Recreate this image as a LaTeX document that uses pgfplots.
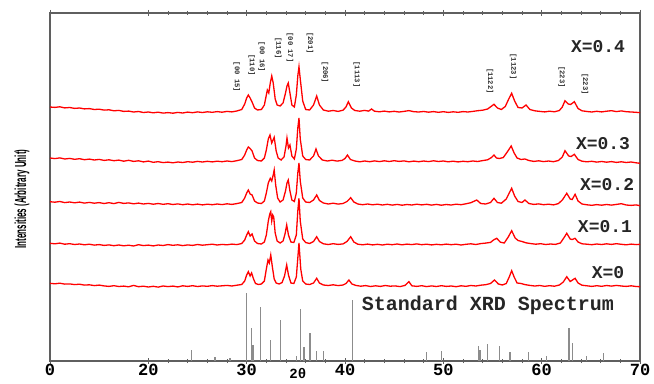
\documentclass[border=0pt]{standalone}
\usepackage{pgfplots}
\pgfplotsset{compat=1.18}
\usepackage{fontspec}
\setmainfont{Liberation Serif}
\newfontfamily\mono{Liberation Mono}
\newfontfamily\ylabfont[FakeStretch=0.5]{Liberation Sans}
\definecolor{axgray}{RGB}{95,95,95}
\definecolor{stickgray}{RGB}{140,140,140}
\begin{document}
\begin{tikzpicture}
\begin{axis}[
  scale only axis, width=590pt, height=348pt,
  xmin=10, xmax=70, ymin=0, ymax=348,
  xtick={10,20,30,40,50,60,70},
  xticklabels={0,20,30,40,50,60,70},
  minor xtick={22,24,26,28,32,34,36,38,42,44,46,48,52,54,56,58,62,64,66,68},
  ytick=\empty,
  tick align=center,
  major tick length=6pt, minor tick length=4pt,
  every tick/.style={axgray, line width=1pt},
  axis line style={axgray, line width=1.6pt},
  /pgf/number format/assume math mode=true,
  xticklabel style={font=\mono\bfseries\fontsize{17}{17}\selectfont, yshift=3pt},
  clip=false,
]
% Standard stick spectrum
\addplot[ycomb, stickgray, line width=1.3pt, mark=none] coordinates {
(24.41,11) (26.78,4) (28.31,3) (30.00,68) (30.51,33) (30.64,16) (31.43,54) (32.45,21)
(33.46,41) (35.09,5) (35.50,52) (35.83,14) (36.44,28) (37.12,10) (37.79,10)
(48.31,9) (49.84,10) (53.56,15) (53.73,11) (54.47,17) (55.69,15) (56.78,9) (58.64,9)
(60.51,5) (62.78,33) (63.12,18) (64.58,5) (66.27,8)};
\addplot[ycomb, stickgray, line width=0.6pt, mark=none] coordinates {(40.78,61)};
% X=0
\addplot[red, line width=1.3pt, mark=none] coordinates {
(10,77.7)(10.5,77.2)(11,77.8)(11.5,76.9)(12,77.1)(12.5,76.4)(13,76.8)(13.5,75.9)(14,76.2)(14.5,75.4)(15,75.9)(15.5,75.1)(16,74.6)(16.5,75.3)(17,74.5)(17.5,74.9)(18,74.2)(18.5,75.6)(19,74.3)(19.5,74.8)(20,74.0)(20.5,74.7)(21,73.9)(21.5,75.0)(22,74.4)(22.5,74.9)(23,74.1)(23.5,75.2)(24,74.6)(24.5,75.3)(25,74.5)(25.5,75.1)(26,74.7)(26.5,75.4)(27,74.8)(27.5,75.2)(28,75.6)(28.5,75.0)(29,75.8)(29.5,76.5)(29.8,80)(30.0,86)(30.17,89.3)(30.35,85)(30.5,88)(30.7,82)(30.9,77.5)(31.2,76.5)(31.5,77)(31.8,80)(32.0,92)(32.17,101)(32.3,98)(32.45,106)(32.6,95)(32.8,82)(33.0,78)(33.3,77)(33.6,78.5)(33.85,85)(34.07,96)(34.25,86)(34.5,78)(34.8,77.5)(35.05,84)(35.32,118)(35.5,92)(35.7,80)(36.0,77)(36.4,76.5)(36.8,78)(37.12,82.7)(37.4,78)(37.8,76)(38.3,75.5)(38.8,76.2)(39.3,75.4)(39.8,76)(40.1,77.5)(40.4,81)(40.7,77)(41.1,75.6)(41.6,74.8)(42.1,75.4)(42.6,74.5)(43.1,75.2)(43.6,74.6)(44.1,75.5)(44.6,74.8)(45.1,75.1)(45.6,74.4)(46.1,75.6)(46.5,79.3)(46.8,75.2)(47.3,74.6)(47.8,75.3)(48.3,74.4)(48.8,75.1)(49.3,74.5)(49.8,75.3)(50.3,74.6)(50.8,75.0)(51.3,74.3)(51.8,75.2)(52.3,74.7)(52.8,75.5)(53.3,75.0)(53.8,75.8)(54.3,76.3)(54.8,77.5)(55.2,81)(55.6,77)(56.0,76)(56.4,77.5)(56.7,84)(56.95,90.3)(57.2,84)(57.5,78)(57.9,77.5)(58.3,76.4)(58.8,75.6)(59.3,75.0)(59.8,75.5)(60.3,74.7)(60.8,75.3)(61.3,74.8)(61.8,76)(62.2,79)(62.55,84.3)(62.9,79.5)(63.4,82.7)(63.7,78)(64.1,75.8)(64.6,75.2)(65.1,74.6)(65.6,75.3)(66.1,74.7)(66.6,75.5)(67.1,74.9)(67.6,75.6)(68.1,75.0)(68.6,74.6)(69.1,75.2)(69.6,74.5)(70,74.3)};
% X=0.1
\addplot[red, line width=1.3pt, mark=none] coordinates {
(10,117.7)(10.5,117.2)(11,117.9)(11.5,116.8)(12,117.3)(12.5,116.5)(13,117.0)(13.5,116.2)(14,116.8)(14.5,115.9)(15,116.4)(15.5,115.6)(16,116.1)(16.5,115.3)(17,116.0)(17.5,115.2)(18,115.8)(18.5,115.0)(19,116.3)(19.5,115.4)(20,115.9)(20.5,115.1)(21,116.0)(21.5,115.5)(22,116.4)(22.5,115.7)(23,116.2)(23.5,115.4)(24,116.1)(24.5,115.6)(25,116.5)(25.5,115.8)(26,116.3)(26.5,116.8)(27,116.0)(27.5,116.6)(28,116.2)(28.5,116.9)(29,116.4)(29.5,117.5)(29.8,121)(30.0,126)(30.17,129.3)(30.35,125)(30.55,127)(30.8,120)(31.1,117.5)(31.5,117)(31.8,119)(32.0,126)(32.2,140)(32.35,147)(32.45,149.3)(32.55,140)(32.65,146)(32.75,144)(32.9,128)(33.1,120)(33.4,118)(33.7,120)(33.9,127)(34.07,136)(34.25,126)(34.5,119)(34.8,118.5)(35.05,126)(35.2,150)(35.32,162.7)(35.45,140)(35.7,122)(36.0,118.5)(36.4,117.5)(36.8,119.5)(37.12,124.3)(37.4,119.5)(37.8,117.2)(38.3,116.5)(38.8,117.3)(39.3,116.6)(39.8,117.1)(40.2,119.5)(40.58,124.3)(40.9,119)(41.3,116.8)(41.8,116.2)(42.3,116.9)(42.8,116.1)(43.3,116.7)(43.8,116.0)(44.3,116.8)(44.8,116.3)(45.3,117.0)(45.8,116.2)(46.3,116.9)(46.8,116.4)(47.3,117.1)(47.8,116.3)(48.3,116.8)(48.8,116.1)(49.3,116.7)(49.8,116.2)(50.3,116.9)(50.8,116.3)(51.3,116.8)(51.8,116.0)(52.3,116.7)(52.8,117.2)(53.3,116.5)(53.8,117.4)(54.3,117.9)(54.8,118.6)(55.1,121)(55.43,122.7)(55.8,118.8)(56.2,118)(56.6,124)(56.95,130.3)(57.3,123)(57.6,120.5)(58.0,119.5)(58.4,118.2)(58.9,117.4)(59.4,116.8)(59.9,117.3)(60.4,116.5)(60.9,117.0)(61.4,116.6)(61.9,118)(62.25,123)(62.55,127.7)(62.9,122)(63.1,121.5)(63.4,122.7)(63.7,119)(64.1,117.2)(64.6,116.8)(65.1,116.3)(65.6,117.0)(66.1,116.5)(66.6,117.2)(67.1,116.6)(67.6,117.3)(68.1,116.7)(68.6,116.2)(69.1,116.9)(69.6,116.4)(70,116.7)};
% X=0.2
\addplot[red, line width=1.3pt, mark=none] coordinates {
(10,159.3)(10.5,158.8)(11,159.5)(11.5,158.4)(12,159.0)(12.5,158.2)(13,158.9)(13.5,157.9)(14,158.6)(14.5,157.8)(15,158.4)(15.5,157.5)(16,158.3)(16.5,157.4)(17,158.6)(17.5,157.6)(18,158.1)(18.5,157.2)(19,157.9)(19.5,157.0)(20,157.6)(20.5,156.8)(21,157.5)(21.5,156.7)(22,157.3)(22.5,156.5)(23,157.1)(23.5,156.3)(24,157.0)(24.5,156.2)(25,156.9)(25.5,156.1)(26,156.8)(26.5,156.3)(27,157.0)(27.5,156.4)(28,157.2)(28.5,156.6)(29,157.4)(29.5,158.5)(29.8,163)(30.0,168)(30.17,171)(30.35,167)(30.55,166)(30.8,160)(31.1,158)(31.5,157.5)(31.8,160)(32.0,168)(32.2,178)(32.4,182.7)(32.55,180)(32.7,186)(32.8,191)(32.95,176)(33.15,163)(33.4,159)(33.7,161)(33.95,170)(34.1,178)(34.23,181)(34.4,170)(34.6,161)(34.85,159.5)(35.05,168)(35.2,188)(35.32,198)(35.45,180)(35.7,163)(36.0,159)(36.4,158.5)(36.8,161)(37.12,166)(37.4,160.5)(37.8,158)(38.3,157)(38.8,157.8)(39.3,156.9)(39.8,157.5)(40.2,159.5)(40.58,163.3)(40.9,159)(41.3,157)(41.8,156.3)(42.3,157.0)(42.8,156.2)(43.3,156.8)(43.8,156.0)(44.3,156.7)(44.8,155.9)(45.3,156.6)(45.8,155.8)(46.3,156.5)(46.8,156.0)(47.3,156.8)(47.8,156.1)(48.3,156.7)(48.8,155.9)(49.3,156.6)(49.8,155.8)(50.3,156.5)(50.8,156.0)(51.3,156.8)(51.8,156.3)(52.3,157.2)(52.8,158.3)(53.4,161)(53.8,157.5)(54.3,157.0)(54.8,158.5)(55.15,162.7)(55.5,158.5)(55.9,157.8)(56.4,162)(56.7,168)(56.95,172.7)(57.25,165)(57.6,159.5)(58.0,158.5)(58.3,161)(58.7,157.5)(59.2,156.6)(59.7,157.1)(60.2,156.3)(60.7,156.8)(61.2,156.1)(61.7,157.4)(62.1,161)(62.55,167.7)(62.9,162)(63.1,161.5)(63.4,166.7)(63.7,160)(64.1,157)(64.6,156.2)(65.1,155.7)(65.6,156.4)(66.1,155.8)(66.6,156.5)(67.1,155.9)(67.6,156.6)(68.1,157.3)(68.6,156.0)(69.1,155.6)(69.6,156.1)(70,155.3)};
% X=0.3
\addplot[red, line width=1.3pt, mark=none] coordinates {
(10,203.0)(10.5,202.4)(11,203.1)(11.5,202.0)(12,202.6)(12.5,201.7)(13,202.3)(13.5,201.3)(14,201.9)(14.5,201.0)(15,201.6)(15.5,200.6)(16,201.2)(16.5,200.3)(17,200.9)(17.5,199.8)(18,200.7)(18.5,199.6)(19,200.2)(19.5,199.1)(20,199.9)(20.5,198.7)(21,199.3)(21.5,198.4)(22,198.9)(22.5,198.2)(23,199.0)(23.5,198.5)(24,199.3)(24.5,198.8)(25,199.6)(25.5,199.0)(26,199.7)(26.5,199.1)(27,199.8)(27.5,199.3)(28,200.0)(28.5,199.4)(29,200.3)(29.5,201.5)(29.8,206)(30.0,211)(30.17,214)(30.35,212.5)(30.55,210)(30.8,203)(31.1,200.5)(31.5,200)(31.8,203)(32.0,211)(32.2,222)(32.37,226)(32.55,218)(32.8,223.7)(33.0,210)(33.2,203)(33.5,201)(33.8,204)(34.0,215)(34.1,223)(34.25,213)(34.4,216)(34.6,205)(34.85,202)(35.05,212)(35.2,233)(35.32,243)(35.45,222)(35.7,205)(36.0,201.5)(36.4,201)(36.8,205)(37.05,212)(37.3,205)(37.7,201)(38.2,200)(38.7,200.8)(39.2,199.9)(39.7,200.6)(40.0,202.5)(40.25,206)(40.55,201.5)(41.0,200)(41.5,199.2)(42.0,200.0)(42.5,199.3)(43.0,200.1)(43.5,199.4)(44.0,200.2)(44.5,199.5)(45.0,200.3)(45.5,199.6)(46.0,200.1)(46.5,199.2)(47.0,199.9)(47.5,199.3)(48.0,200.0)(48.5,199.4)(49.0,200.2)(49.5,199.5)(50.0,200.0)(50.5,199.2)(51.0,199.8)(51.5,199.1)(52.0,199.7)(52.5,199.3)(53.0,200.0)(53.5,199.5)(54.0,200.4)(54.5,201.2)(54.9,203.5)(55.15,206)(55.4,203)(55.7,202.5)(56.1,203.5)(56.5,209)(56.9,215)(57.2,208)(57.5,203)(57.9,201.5)(58.3,202)(58.7,200.5)(59.2,199.6)(59.7,200.2)(60.2,199.4)(60.7,200.0)(61.2,199.3)(61.7,200.5)(62.1,204)(62.37,210.3)(62.75,205)(63.0,204.5)(63.32,206.7)(63.7,201.5)(64.1,199.8)(64.6,199.2)(65.1,199.7)(65.6,198.9)(66.1,199.5)(66.6,198.8)(67.1,199.4)(67.6,198.6)(68.1,199.2)(68.6,198.5)(69.1,199.0)(69.6,198.2)(70,197.7)};
% X=0.4
\addplot[red, line width=1.3pt, mark=none] coordinates {
(10,254.0)(10.5,253.6)(11,254.2)(11.5,253.1)(12,253.5)(12.5,252.6)(13,253.0)(13.5,252.1)(14,252.4)(14.5,251.5)(15,251.8)(15.5,250.9)(16,251.2)(16.5,250.2)(17,250.6)(17.5,249.6)(18,249.9)(18.5,249.0)(19,249.5)(19.5,248.5)(20,249.0)(20.5,248.2)(21,248.8)(21.5,247.9)(22,248.4)(22.5,247.8)(23,248.6)(23.5,248.0)(24,248.9)(24.5,248.3)(25,249.1)(25.5,248.5)(26,249.2)(26.5,248.7)(27,249.4)(27.5,248.8)(28,249.6)(28.5,249.1)(29,250.0)(29.5,251.5)(29.8,257)(30.0,263)(30.17,266)(30.35,263)(30.55,259)(30.8,253)(31.1,251)(31.5,251.5)(31.8,256)(32.0,266)(32.1,271)(32.25,268)(32.4,278)(32.55,285)(32.7,278)(32.9,262)(33.1,256)(33.4,255)(33.7,258)(33.95,268)(34.1,275)(34.23,278)(34.4,268)(34.6,256)(34.85,254)(35.05,266)(35.2,285)(35.32,294.3)(35.45,282)(35.7,260)(36.0,251.5)(36.4,251)(36.8,256)(37.12,265)(37.4,256)(37.8,251)(38.3,249.8)(38.8,250.5)(39.3,249.6)(39.8,250.8)(40.1,254)(40.34,259.3)(40.65,253)(41.0,250.5)(41.5,249.8)(42.0,250.6)(42.4,249.9)(42.7,252)(43.0,249.8)(43.5,249.2)(44.0,249.9)(44.5,249.1)(45.0,249.7)(45.5,249.0)(46.0,249.6)(46.5,250.4)(47.0,249.3)(47.5,249.0)(48.0,249.5)(48.5,248.8)(49.0,249.4)(49.5,248.7)(50.0,249.3)(50.5,248.6)(51.0,249.2)(51.5,248.7)(52.0,249.4)(52.5,249.0)(53.0,249.6)(53.5,250.3)(54.0,250.8)(54.5,252)(54.85,254.5)(55.15,256.7)(55.5,253)(55.9,251.5)(56.3,254.5)(56.65,262)(56.95,267.7)(57.25,260)(57.6,253.5)(58.0,253)(58.41,256)(58.8,251.5)(59.3,250.2)(59.8,249.6)(60.3,249.1)(60.8,249.8)(61.3,249.2)(61.8,250.5)(62.1,254)(62.37,260.3)(62.7,257)(62.95,256.5)(63.32,259.3)(63.7,252.5)(64.1,250.2)(64.6,249.5)(65.1,249.0)(65.6,249.7)(66.1,249.1)(66.6,249.8)(67.1,250.3)(67.6,249.4)(68.1,250.1)(68.6,249.3)(69.1,249.0)(69.6,248.7)(70,248.3)};
% hkl labels
\begin{scope}[every node/.style={font=\mono\bfseries\fontsize{7.2}{7.2}\selectfont, rotate=-90, inner sep=0pt, text=black!80}]
\node at (axis cs:28.99,284) {[00 15]};
\node at (axis cs:30.51,296) {[110]};
\node at (axis cs:31.53,304) {[00 16]};
\node at (axis cs:33.22,313) {[116]};
\node at (axis cs:34.41,313.5) {[00 17]};
\node at (axis cs:36.44,318) {[201]};
\node at (axis cs:37.97,288.5) {[206]};
\node at (axis cs:41.19,286.5) {[1113]};
\node at (axis cs:54.75,280) {[1122]};
\node at (axis cs:57.12,294.5) {[1123]};
\node at (axis cs:62.04,284) {[223]};
\node at (axis cs:64.41,277) {[223]};
\end{scope}
\begin{scope}[every node/.style={font=\mono\bfseries\fontsize{18}{18}\selectfont, inner sep=0pt, text=black!85}]
\node at (axis cs:65.73,314.3) {X=0.4};
\node at (axis cs:66.24,217) {X=0.3};
\node at (axis cs:66.65,176) {X=0.2};
\node at (axis cs:66.44,134) {X=0.1};
\node at (axis cs:66.75,88) {X=0};
\node[font=\mono\bfseries\fontsize{20}{20}\selectfont] at (axis cs:54.54,56) {Standard XRD Spectrum};
\end{scope}
\node[rotate=90, font=\ylabfont\bfseries\fontsize{16}{16}\selectfont, inner sep=0pt] at ([xshift=-28pt]axis cs:10,162) {Intensities (Arbitrary Unit)};
\node[anchor=south, font=\mono\bfseries\fontsize{14}{14}\selectfont, inner sep=0pt] at ([yshift=4pt]axis cs:35.2,-22) {2θ};
\end{axis}
\pgfresetboundingbox
\path ([shift={(-50pt,-22pt)}]current axis.south west) rectangle ([shift={(14pt,13pt)}]current axis.north east);
\end{tikzpicture}
\end{document}
